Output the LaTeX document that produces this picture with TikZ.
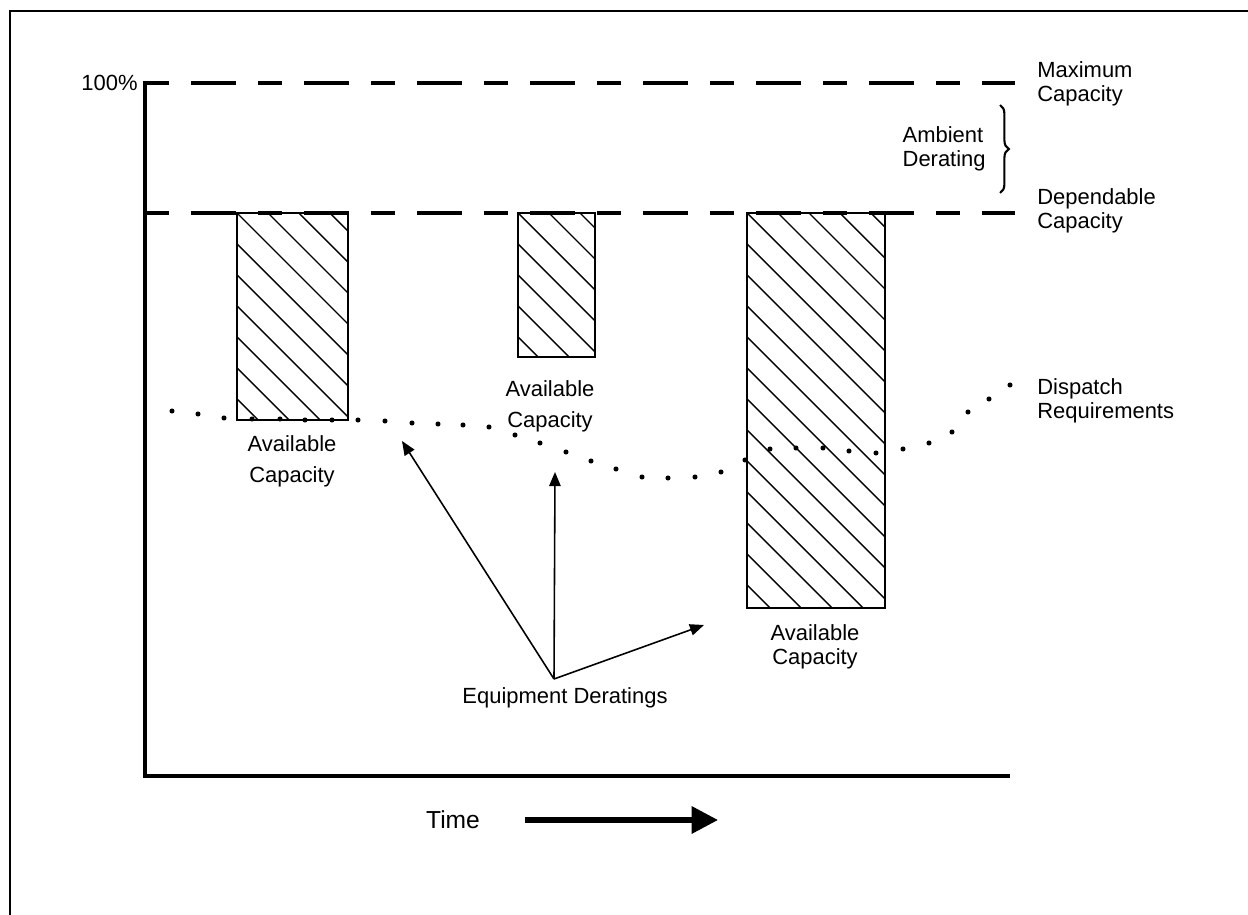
\documentclass[tikz,border=0pt]{standalone}
\usepackage{fontspec}
\setmainfont{Liberation Sans}
\usetikzlibrary{arrows.meta,decorations.pathreplacing}
\begin{document}
\begin{tikzpicture}[x=0.02cm,y=-0.02cm,
  lbl/.style={font=\fontsize{12.5}{13.5}\selectfont, inner sep=0pt, align=left},
  avlbl/.style={font=\fontsize{12.5}{17.5}\selectfont, inner sep=0pt, align=center},
  axis/.style={line width=2.8pt},
  capline/.style={line width=2.6pt, dash pattern=on 0.48cm off 0.44cm on 0.9cm off 0.44cm},
  bar/.style={draw, line width=0.85pt, inner sep=0pt, outer sep=0pt, anchor=north west,
    path picture={\foreach \k in {-30,...,30}
      \draw[line width=0.8pt] ([xshift=\k*0.62cm]path picture bounding box.north west) -- ++(12cm,-12cm);}},
  dot/.style={fill=black},
  der/.style={line width=0.9pt, -{Triangle[length=8pt,width=6.5pt]}},
  timearrow/.style={line width=3pt, -{Triangle[length=15pt,width=15pt]}}]
\useasboundingbox (0,0) rectangle (1248,915);
% frame
\draw[line width=1.1pt] (1248,11) -- (10,11) -- (10,915);
% capacity lines
\coordinate (maxL) at (145,83);
\coordinate (maxR) at (1015,83);
\coordinate (depL) at (145,213);
\coordinate (depR) at (1015,213);
\draw[capline] (maxL) -- (maxR);
\draw[capline] (depL) -- (depR);
% bars
\node[bar, minimum width=2.22cm, minimum height=4.14cm] (bar1) at (237,213) {};
\node[bar, minimum width=1.54cm, minimum height=2.88cm] (bar2) at (518,213) {};
\node[bar, minimum width=2.76cm, minimum height=7.9cm] (bar3) at (747,213) {};
% axes
\coordinate (ytop) at (145,81);
\coordinate (orig) at (145,776);
\coordinate (xend) at (1010,776);
\draw[axis] (ytop) -- (orig) -- (xend);
% dispatch requirement dots
\foreach \x/\y in {172/411,198/414,224/418,252/419,280/419,305/420,332/420,358/420,385/421,
  412/423,438/424,463/425,489/427,515/435,540/443,566/452,591/461,616/469,642/477,668/478,
  695/477,721/472,745/460,770/449,796/448,823/448,849/451,876/453,903/449,929/443,952/432,
  968/412,989/399,1010/385}
  \fill[dot] (\x,\y) circle[radius=1.45pt];
% labels
\node[lbl, anchor=east] (pct) at (138,83) {100\%};
\node[lbl, anchor=west] (maxcap) at (1037,84) {Maximum\\Capacity};
\node[lbl, anchor=east] (amb) at (986,149) {Ambient\\Derating};
\node[lbl, anchor=west] (depcap) at (1037,211) {Dependable\\Capacity};
\node[lbl, anchor=west] (disp) at (1037,401) {Dispatch\\Requirements};
\draw[line width=1.2pt, decorate, decoration={brace, amplitude=5pt}] (1000,105) -- (1000,193);
\node[avlbl] (av1) at (292,461) {Available\\Capacity};
\node[avlbl] (av2) at (550,406) {Available\\Capacity};
\node[lbl, align=center] (av3) at (815,647) {Available\\Capacity};
% equipment deratings
\node[lbl] (eqd) at (565,698) {Equipment Deratings};
\coordinate (eqo) at (554,679);
\coordinate (t1) at (402,441);
\coordinate (t2) at (555,472);
\coordinate (t3) at (704,625);
\draw[der] (eqo) -- (t1);
\draw[der] (eqo) -- (t2);
\draw[der] (eqo) -- (t3);
% time
\node[font=\fontsize{14}{15}\selectfont, inner sep=0pt] (time) at (453,820) {Time};
\coordinate (ta) at (525,820);
\coordinate (tb) at (718,820);
\draw[timearrow] (ta) -- (tb);
\end{tikzpicture}
\end{document}
